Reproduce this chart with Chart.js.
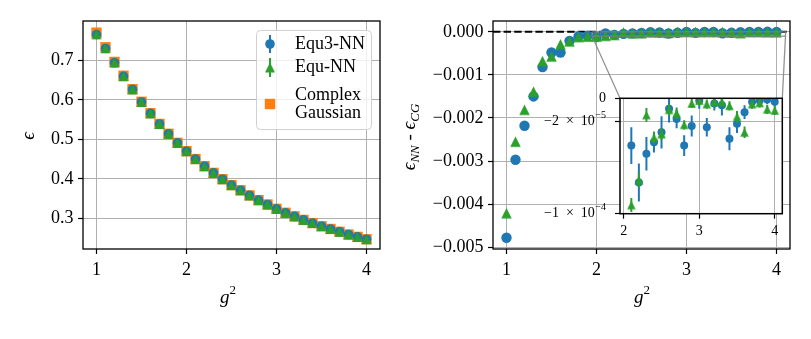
<!DOCTYPE html>
<html>
<head>
<meta charset="utf-8">
<script src="https://cdn.jsdelivr.net/npm/chart.js@4.4.0/dist/chart.umd.min.js"></script>
<style>
  body { margin: 0; background: #fff; }
  #wrap { position: relative; width: 811px; height: 339px; }
  canvas { position: absolute; }
  #left { left: 0; top: 0; }
  #right { left: 400px; top: 0; }
  #inset { left: 530px; top: 90px; }
</style>
</head>
<body>
<div id="wrap">
  <canvas id="left" width="400" height="339"></canvas>
  <canvas id="right" width="411" height="339"></canvas>
  <canvas id="inset" width="260" height="160"></canvas>
</div>
<script>
// g^2 values
const g2 = [1.0, 1.1, 1.2, 1.3, 1.4, 1.5, 1.6, 1.7, 1.8, 1.9, 2.0,
            2.1, 2.2, 2.3, 2.4, 2.5, 2.6, 2.7, 2.8, 2.9, 3.0,
            3.1, 3.2, 3.3, 3.4, 3.5, 3.6, 3.7, 3.8, 3.9, 4.0];

// complex gaussian energy
const energyCG = [0.770, 0.733, 0.696, 0.661, 0.627, 0.595, 0.566, 0.539, 0.514, 0.491, 0.470,
                  0.450, 0.432, 0.415, 0.399, 0.384, 0.371, 0.358, 0.346, 0.335, 0.324,
                  0.314, 0.305, 0.296, 0.288, 0.280, 0.273, 0.266, 0.259, 0.253, 0.247];

// eps_NN - eps_CG
const diffEqu3 = [-0.00478, -0.00297, -0.00218, -0.00150, -0.00082, -0.00048, -0.00048, -0.00021, -0.00011, -0.00009, -0.00012,
                  -4.1e-5, -7.3e-5, -4.8e-5, -3.8e-5, -2.95e-5, -0.9e-5, -1.8e-5, -4.1e-5, -2.4e-5, -0.2e-5,
                  -2.5e-5, -0.45e-5, -0.6e-5, -3.5e-5, -2.2e-5, -1.2e-5, -0.3e-5, -0.2e-5, -0.1e-5, -0.3e-5];
const errEqu3 = [1e-5, 1e-5, 1e-5, 1e-5, 1e-5, 1e-5, 1e-5, 1e-5, 1e-5, 1e-5, 1e-5,
                 1.6e-5, 1.65e-5, 1.45e-5, 0.9e-5, 1.4e-5, 1.2e-5, 0.8e-5, 0.9e-5, 0.9e-5, 0.7e-5,
                 0.8e-5, 0.6e-5, 0.9e-5, 1.0e-5, 0.8e-5, 0.6e-5, 0.5e-5, 0.5e-5, 0.4e-5, 0.4e-5];
const diffEqu = [-0.00421, -0.00255, -0.00181, -0.00139, -0.00068, -0.00057, -0.00029, -0.00022, -0.00012, -0.00011, -0.00011,
                 -9.25e-5, -7.1e-5, -1.45e-5, -3.4e-5, -3.1e-5, -1.0e-5, -1.3e-5, -2.3e-5, -0.45e-5, -0.2e-5,
                 -0.5e-5, -0.3e-5, -0.3e-5, -0.65e-5, -1.6e-5, -2.95e-5, -0.5e-5, -0.4e-5, -0.95e-5, -1.05e-5];
const errEqu = [0.5e-5, 0.5e-5, 0.5e-5, 0.5e-5, 0.5e-5, 0.5e-5, 0.5e-5, 0.5e-5, 0.5e-5, 0.5e-5, 0.5e-5,
                0.6e-5, 0.6e-5, 0.6e-5, 0.5e-5, 0.5e-5, 0.5e-5, 0.5e-5, 0.4e-5, 0.4e-5, 0.4e-5,
                0.4e-5, 0.4e-5, 0.4e-5, 0.4e-5, 0.5e-5, 0.5e-5, 0.4e-5, 0.4e-5, 0.4e-5, 0.4e-5];

const legendLabels = ['Equ3-NN', 'Equ-NN', ['Complex', 'Gaussian']];
const xTicks = [1, 2, 3, 4];
const leftYTicks = [0.3, 0.4, 0.5, 0.6, 0.7];
const rightYTicks = [0, -0.001, -0.002, -0.003, -0.004, -0.005];
const insetXTicks = [2, 3, 4];
const insetYTicks = [0, -2e-5, -1e-4];
const insetYLabels = [['0', ''], ['\u22122  \u00d7  10', '\u22125'], ['\u22121  \u00d7  10', '\u22124']];
const insetXRange = [1.95, 4.1];
const insetYRange = [-1e-4, 0];

const BLUE = '#1f77b4', GREEN = '#2ca02c', ORANGE = '#ff7f0e';
const SERIF = '"Liberation Serif", "DejaVu Serif", serif';

Chart.defaults.font.family = SERIF;
Chart.defaults.font.size = 18;
Chart.defaults.color = '#000';
Chart.defaults.animation = false;
Chart.defaults.events = [];
Chart.defaults.plugins.legend.display = false;
Chart.defaults.plugins.tooltip.enabled = false;

const energyEqu3 = energyCG.map((e, i) => e + diffEqu3[i]);
const energyEqu = energyCG.map((e, i) => e + diffEqu[i]);

function pts(xs, ys) { return xs.map((x, i) => ({x: x, y: ys[i]})); }

function triangle(size, color) {
    const c = document.createElement('canvas');
    c.width = Math.ceil(size) + 2; c.height = Math.ceil(size) + 2;
    const ctx = c.getContext('2d');
    const h = size / 2, cx = c.width / 2, cy = c.height / 2;
    ctx.fillStyle = color;
    ctx.beginPath();
    ctx.moveTo(cx, cy - h);
    ctx.lineTo(cx - h, cy + h);
    ctx.lineTo(cx + h, cy + h);
    ctx.closePath();
    ctx.fill();
    return c;
}

function fixAxis(size) {
    return function(scale) {
        if (scale.isHorizontal()) scale.height = size; else scale.width = size;
        scale.paddingLeft = scale.paddingRight = scale.paddingTop = scale.paddingBottom = 0;
    };
}
function setTicks(list) {
    return function(scale) { scale.ticks = list.map(v => ({value: v})); };
}

function axisCfg(min, max, ticks, size, fmt, fontSize, pad) {
    return {
        type: 'linear', min: min, max: max,
        afterBuildTicks: setTicks(ticks),
        afterFit: fixAxis(size),
        border: {display: false},
        grid: {color: '#b0b0b0', lineWidth: 1, tickColor: '#000', tickLength: 5, tickWidth: 1.2},
        ticks: {callback: fmt, font: {size: fontSize}, padding: pad, maxRotation: 0, autoSkip: false}
    };
}

function drawMath(ctx, parts, x, y, rot) {
    ctx.save();
    ctx.translate(x, y);
    if (rot) ctx.rotate(-Math.PI / 2);
    let w = 0;
    parts.forEach(p => {
        ctx.font = (p.it ? 'italic ' : '') + p.s + 'px ' + SERIF;
        p.w = ctx.measureText(p.t).width;
        w += p.w;
    });
    let cx = -w / 2;
    ctx.fillStyle = '#000';
    ctx.textBaseline = 'alphabetic';
    ctx.textAlign = 'left';
    parts.forEach(p => {
        ctx.font = (p.it ? 'italic ' : '') + p.s + 'px ' + SERIF;
        ctx.fillText(p.t, cx, p.dy || 0);
        cx += p.w;
    });
    ctx.restore();
}

function drawFrame(chart, lw) {
    const a = chart.chartArea, ctx = chart.ctx;
    ctx.save();
    ctx.strokeStyle = '#000';
    ctx.lineWidth = lw;
    ctx.strokeRect(a.left, a.top, a.right - a.left, a.bottom - a.top);
    ctx.restore();
}

const errorBars = {
    id: 'errorBars',
    beforeDatasetDraw(chart, args) {
        const ds = chart.data.datasets[args.index];
        if (!ds.errors) return;
        const ctx = chart.ctx, xs = chart.scales.x, ys = chart.scales.y, a = chart.chartArea;
        ctx.save();
        ctx.beginPath();
        ctx.rect(a.left, a.top, a.right - a.left, a.bottom - a.top);
        ctx.clip();
        ctx.strokeStyle = ds.backgroundColor;
        ctx.lineWidth = 2;
        ds.data.forEach((p, i) => {
            const px = xs.getPixelForValue(p.x);
            ctx.beginPath();
            ctx.moveTo(px, ys.getPixelForValue(p.y - ds.errors[i]));
            ctx.lineTo(px, ys.getPixelForValue(p.y + ds.errors[i]));
            ctx.stroke();
        });
        ctx.restore();
    }
};

// ---------- left panel ----------
new Chart(document.getElementById('left'), {
    type: 'scatter',
    data: {
        datasets: [
            {label: 'Equ-NN', data: pts(g2, energyEqu), pointStyle: triangle(10, GREEN), pointRadius: 5, backgroundColor: GREEN},
            {label: 'Equ3-NN', data: pts(g2, energyEqu3), pointStyle: 'circle', pointRadius: 4.8, borderWidth: 0, backgroundColor: BLUE},
            {label: 'Complex Gaussian', data: pts(g2, energyCG), pointStyle: 'rect', pointRadius: 7.3, borderWidth: 0, backgroundColor: ORANGE}
        ]
    },
    options: {
        responsive: false,
        layout: {padding: {left: 0, right: 20, top: 21, bottom: 0}},
        scales: {
            x: axisCfg(0.85, 4.15, xTicks, 90, v => String(v), 18, 5),
            y: axisCfg(0.2223, 0.7995, leftYTicks, 83, v => v.toFixed(1), 18, 4.5)
        }
    },
    plugins: [{
        id: 'leftDeco',
        afterDatasetsDraw(chart) { drawFrame(chart, 1.3); },
        afterDraw(chart) {
            const ctx = chart.ctx;
            drawMath(ctx, [{t: 'g', it: true, s: 19}, {t: '2', s: 13, dy: -9}], 228, 303, false);
            drawMath(ctx, [{t: '\u03f5', it: true, s: 19}], 34, 136, true);
            // legend
            ctx.save();
            ctx.beginPath();
            ctx.roundRect(256.5, 30.5, 115, 99, 4);
            ctx.fillStyle = 'rgba(255,255,255,0.8)';
            ctx.fill();
            ctx.strokeStyle = '#d0d0d0';
            ctx.lineWidth = 1;
            ctx.stroke();
            const mx = 270;
            ctx.strokeStyle = BLUE; ctx.fillStyle = BLUE; ctx.lineWidth = 2;
            ctx.beginPath(); ctx.moveTo(mx, 35); ctx.lineTo(mx, 53); ctx.stroke();
            ctx.beginPath(); ctx.arc(mx, 44, 4.8, 0, Math.PI * 2); ctx.fill();
            ctx.strokeStyle = GREEN;
            ctx.beginPath(); ctx.moveTo(mx, 58); ctx.lineTo(mx, 77); ctx.stroke();
            ctx.drawImage(triangle(10, GREEN), mx - 6, 67.5 - 6);
            ctx.fillStyle = ORANGE;
            ctx.fillRect(mx - 5.2, 104 - 5.2, 10.4, 10.4);
            ctx.fillStyle = '#000';
            ctx.font = '18px ' + SERIF;
            ctx.textBaseline = 'middle';
            ctx.textAlign = 'left';
            ctx.fillText(legendLabels[0], 295, 44);
            ctx.fillText(legendLabels[1], 295, 67.5);
            ctx.fillText(legendLabels[2][0], 295, 95);
            ctx.fillText(legendLabels[2][1], 295, 113.5);
            ctx.restore();
        }
    }]
});

// ---------- inset ----------
const INSET_L = 530, INSET_T = 90, RIGHT_L = 400;
const insetChart = new Chart(document.getElementById('inset'), {
    type: 'scatter',
    data: {
        datasets: [
            {label: 'Equ-NN', data: pts(g2, diffEqu), errors: errEqu, pointStyle: triangle(8.5, GREEN), pointRadius: 4.5, backgroundColor: GREEN, clip: 0},
            {label: 'Equ3-NN', data: pts(g2, diffEqu3), errors: errEqu3, pointStyle: 'circle', pointRadius: 4, borderWidth: 0, backgroundColor: BLUE, clip: 0}
        ]
    },
    options: {
        responsive: false,
        layout: {padding: {left: 0, right: 7.7, top: 8.3, bottom: 0}},
        scales: {
            x: axisCfg(insetXRange[0], insetXRange[1], insetXTicks, 36.3, v => String(v), 14, 4),
            y: axisCfg(insetYRange[0], insetYRange[1], insetYTicks, 90, v => '', 14, 4)
        }
    },
    plugins: [errorBars, {
        id: 'insetDeco',
        beforeDraw(chart) {
            const a = chart.chartArea, ctx = chart.ctx;
            ctx.save();
            ctx.fillStyle = '#fff';
            ctx.fillRect(a.left, a.top, a.right - a.left, a.bottom - a.top);
            ctx.restore();
        },
        afterDatasetsDraw(chart) { drawFrame(chart, 1.5); },
        afterDraw(chart) {
            const ctx = chart.ctx, ys = chart.scales.y, a = chart.chartArea;
            ctx.save();
            ctx.fillStyle = '#000';
            ctx.textBaseline = 'middle';
            ctx.textAlign = 'right';
            insetYTicks.forEach((v, i) => {
                const y = ys.getPixelForValue(v);
                let x = a.left - 14;
                const lab = insetYLabels[i];
                if (lab[1]) {
                    ctx.font = '10px ' + SERIF;
                    ctx.fillText(lab[1], x, y - 6);
                    x -= ctx.measureText(lab[1]).width + 0.5;
                }
                ctx.font = '14px ' + SERIF;
                ctx.fillText(lab[0], x, y);
            });
            ctx.restore();
        }
    }]
});

// ---------- right panel ----------
new Chart(document.getElementById('right'), {
    type: 'scatter',
    data: {
        datasets: [
            {label: 'Equ-NN', data: pts(g2, diffEqu), errors: errEqu, pointStyle: triangle(10.5, GREEN), pointRadius: 5, backgroundColor: GREEN},
            {label: 'Equ3-NN', data: pts(g2, diffEqu3), errors: errEqu3, pointStyle: 'circle', pointRadius: 5.2, borderWidth: 0, backgroundColor: BLUE}
        ]
    },
    options: {
        responsive: false,
        layout: {padding: {left: 0, right: 21, top: 21, bottom: 0}},
        scales: {
            x: axisCfg(0.85, 4.15, xTicks, 90, v => String(v), 18, 5),
            y: axisCfg(-0.00504, 0.00025, rightYTicks, 93,
                       v => v === 0 ? '0.000' : '\u2212' + Math.abs(v).toFixed(3), 18, 4.5)
        }
    },
    plugins: [errorBars, {
        id: 'rightDeco',
        beforeDatasetsDraw(chart) {
            const ctx = chart.ctx, a = chart.chartArea, y0 = chart.scales.y.getPixelForValue(0);
            ctx.save();
            ctx.strokeStyle = '#000';
            ctx.lineWidth = 2;
            ctx.setLineDash([7.4, 3.2]);
            ctx.beginPath(); ctx.moveTo(a.left, y0); ctx.lineTo(a.right, y0); ctx.stroke();
            ctx.restore();
        },
        afterDatasetsDraw(chart) {
            const ctx = chart.ctx, xs = chart.scales.x, ys = chart.scales.y;
            const rx1 = xs.getPixelForValue(insetXRange[0]), rx2 = xs.getPixelForValue(insetXRange[1]);
            const ryTop = ys.getPixelForValue(insetYRange[1]), ryBot = ys.getPixelForValue(insetYRange[0]);
            const ia = insetChart.chartArea;
            const dx = INSET_L - RIGHT_L, dy = INSET_T;
            ctx.save();
            ctx.strokeStyle = 'rgba(128,128,128,0.85)';
            ctx.lineWidth = 1.3;
            ctx.strokeRect(rx1, ryTop, rx2 - rx1, ryBot - ryTop);
            ctx.beginPath();
            ctx.moveTo(rx1, ryBot); ctx.lineTo(ia.left + dx, ia.top + dy);
            ctx.moveTo(rx2, ryBot); ctx.lineTo(ia.right + dx, ia.top + dy);
            ctx.stroke();
            ctx.restore();
            drawFrame(chart, 1.3);
        },
        afterDraw(chart) {
            const ctx = chart.ctx;
            drawMath(ctx, [{t: 'g', it: true, s: 19}, {t: '2', s: 13, dy: -9}], 242, 303, false);
            drawMath(ctx, [{t: '\u03f5', it: true, s: 19}, {t: 'NN', it: true, s: 13, dy: 4},
                           {t: ' - ', s: 19}, {t: '\u03f5', it: true, s: 19}, {t: 'CG', it: true, s: 13, dy: 4}],
                     15, 137, true);
        }
    }]
});
</script>
</body>
</html>
